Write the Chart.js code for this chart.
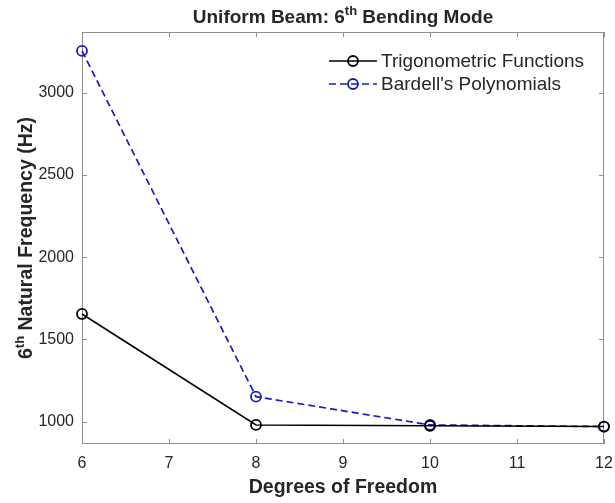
<!DOCTYPE html>
<html>
<head>
<meta charset="utf-8">
<title>Uniform Beam: 6th Bending Mode</title>
<script src="https://cdn.jsdelivr.net/npm/chart.js@4/dist/chart.umd.min.js"></script>
<style>
  html, body { margin: 0; padding: 0; background: #fff; }
  #wrap { width: 615px; height: 503px; }
</style>
</head>
<body>
<div id="wrap"><canvas id="modeChart"></canvas></div>
<script>
// degrees of freedom in the convergence study
const dof = [6, 8, 10, 12];
// 6th natural frequency (Hz) for each set of admissible functions
const trigFreq = [1655, 980, 975, 970];
const bardellFreq = [3255, 1152, 980, 970];
const seriesNames = ['Trigonometric Functions', "Bardell's Polynomials"];
const xTickValues = [6, 7, 8, 9, 10, 11, 12];
const yTickValues = [1000, 1500, 2000, 2500, 3000];

const FONT = '"Liberation Sans", Arial, Helvetica, sans-serif';
const AXIS_GREY = '#8e8e8e';
const TEXT_COL = '#262626';

function toPoints(ys) {
    return dof.map((x, i) => ({ x: x, y: ys[i] }));
}

// text made of pieces, some of them superscripts (the "th" in 6th)
function drawSupText(ctx, parts, x, y, size, align) {
    const big = 'bold ' + size + 'px ' + FONT;
    const small = 'bold ' + Math.round(size * 0.68) + 'px ' + FONT;
    let total = 0;
    parts.forEach(p => {
        ctx.font = p.sup ? small : big;
        p.w = ctx.measureText(p.t).width;
        total += p.w;
    });
    let cx = align === 'center' ? x - total / 2 : x;
    ctx.textAlign = 'left';
    ctx.textBaseline = 'alphabetic';
    parts.forEach(p => {
        ctx.font = p.sup ? small : big;
        ctx.fillText(p.t, cx, p.sup ? y - size * 0.42 : y);
        cx += p.w;
    });
}

const matlabFrame = {
    id: 'matlabFrame',
    beforeDraw(chart) {
        const ctx = chart.ctx;
        ctx.save();
        ctx.fillStyle = '#fff';
        ctx.fillRect(0, 0, chart.width, chart.height);
        ctx.restore();
    },
    beforeDatasetsDraw(chart) {
        const { ctx, chartArea: a, scales: { x, y } } = chart;
        ctx.save();
        ctx.strokeStyle = AXIS_GREY;
        ctx.lineWidth = 1;
        ctx.strokeRect(a.left + 0.5, a.top + 0.5, a.right - a.left - 1, a.bottom - a.top - 1);
        // tick marks point into the box on all four sides
        ctx.beginPath();
        x.ticks.forEach(t => {
            const px = Math.round(x.getPixelForValue(t.value)) + 0.5;
            ctx.moveTo(px, a.bottom); ctx.lineTo(px, a.bottom - 5);
            ctx.moveTo(px, a.top); ctx.lineTo(px, a.top + 5);
        });
        y.ticks.forEach(t => {
            const py = Math.round(y.getPixelForValue(t.value)) + 0.5;
            ctx.moveTo(a.left, py); ctx.lineTo(a.left + 5, py);
            ctx.moveTo(a.right, py); ctx.lineTo(a.right - 5, py);
        });
        ctx.stroke();
        ctx.restore();
    },
    afterDraw(chart) {
        const { ctx, chartArea: a } = chart;
        ctx.save();
        ctx.fillStyle = TEXT_COL;

        // title
        drawSupText(ctx, [{ t: 'Uniform Beam: 6' }, { t: 'th', sup: true }, { t: ' Bending Mode' }],
            (a.left + a.right) / 2, 23, 19, 'center');

        // y axis title, rotated
        ctx.save();
        ctx.translate(32, (a.top + a.bottom) / 2);
        ctx.rotate(-Math.PI / 2);
        drawSupText(ctx, [{ t: '6' }, { t: 'th', sup: true }, { t: ' Natural Frequency (Hz)' }],
            0, 0, 19.5, 'center');
        ctx.restore();

        // legend: line sample with marker, then the series name
        chart.data.datasets.forEach((ds, i) => {
            const ly = 61 + i * 23;
            const x0 = 329, x1 = 377, xm = (x0 + x1) / 2;
            ctx.strokeStyle = ds.borderColor;
            ctx.lineWidth = ds.borderWidth;
            ctx.setLineDash(ds.borderDash || []);
            ctx.beginPath();
            ctx.moveTo(x0, ly); ctx.lineTo(x1, ly);
            ctx.stroke();
            ctx.setLineDash([]);
            ctx.lineWidth = ds.pointBorderWidth;
            ctx.beginPath();
            ctx.arc(xm, ly, ds.pointRadius, 0, Math.PI * 2);
            ctx.stroke();
            ctx.fillStyle = TEXT_COL;
            ctx.font = '19px ' + FONT;
            ctx.textAlign = 'left';
            ctx.textBaseline = 'middle';
            ctx.fillText(ds.label, 381, ly + 1);
        });
        ctx.restore();
    }
};

const ctx = document.getElementById('modeChart').getContext('2d');

new Chart(ctx, {
    type: 'line',
    data: {
        datasets: [{
            label: seriesNames[0],
            data: toPoints(trigFreq),
            borderColor: '#000000',
            borderWidth: 1.6,
            pointStyle: 'circle',
            pointRadius: 5,
            pointBorderWidth: 1.8,
            pointBackgroundColor: 'rgba(0,0,0,0)',
            pointBorderColor: '#000000',
            tension: 0,
            clip: false
        }, {
            label: seriesNames[1],
            data: toPoints(bardellFreq),
            borderColor: '#1c1cb4',
            borderWidth: 1.7,
            borderDash: [7, 4],
            pointStyle: 'circle',
            pointRadius: 5,
            pointBorderWidth: 1.8,
            pointBackgroundColor: 'rgba(0,0,0,0)',
            pointBorderColor: '#1c1cb4',
            tension: 0,
            clip: false
        }]
    },
    options: {
        responsive: true,
        maintainAspectRatio: false,
        animation: false,
        layout: { padding: { top: 32, right: 11, bottom: 0, left: 0 } },
        plugins: {
            legend: { display: false },
            title: { display: false },
            tooltip: { enabled: false }
        },
        scales: {
            x: {
                type: 'linear',
                min: 6,
                max: 12,
                afterBuildTicks: s => { s.ticks = xTickValues.map(v => ({ value: v })); },
                afterFit: s => { s.height = 59; s.paddingLeft = 0; s.paddingRight = 0; },
                grid: { display: false, drawTicks: false },
                border: { display: false },
                ticks: {
                    padding: 10,
                    color: TEXT_COL,
                    font: { family: FONT, size: 16 },
                    callback: v => String(v)
                },
                title: {
                    display: true,
                    text: 'Degrees of Freedom',
                    color: TEXT_COL,
                    font: { family: FONT, size: 19.5, weight: 'bold' },
                    padding: { top: 0, bottom: 4 }
                }
            },
            y: {
                type: 'linear',
                min: 864,
                max: 3370,
                afterBuildTicks: s => { s.ticks = yTickValues.map(v => ({ value: v })); },
                afterFit: s => { s.width = 82; },
                grid: { display: false, drawTicks: false },
                border: { display: false },
                ticks: {
                    padding: 8,
                    color: TEXT_COL,
                    font: { family: FONT, size: 16 },
                    callback: v => String(v)
                }
            }
        }
    },
    plugins: [matlabFrame]
});
</script>
</body>
</html>
